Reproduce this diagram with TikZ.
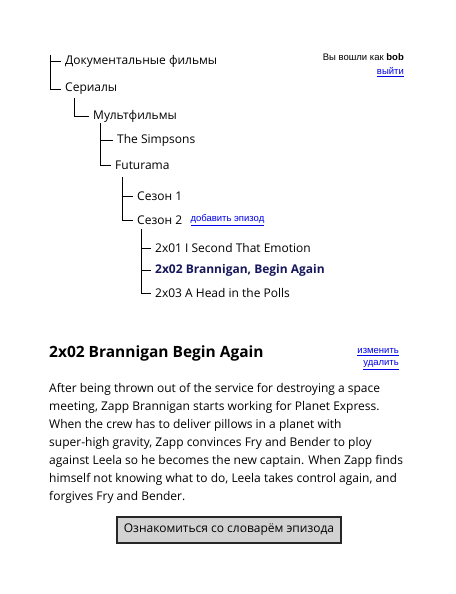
\documentclass[tikz,border=0pt]{standalone}
\usepackage{fontspec}
\setmainfont{Open Sans}
\newfontfamily\uifont{Liberation Sans}
\usetikzlibrary{positioning}
\definecolor{linkblue}{RGB}{0,0,230}
\definecolor{navy}{RGB}{22,22,92}
\tikzset{
    % Tree entry
    item/.style={anchor=west,inner xsep=4pt,inner ysep=1pt,font=\fontsize{12}{14}\selectfont},
    % Tree branch line
    branch/.style={draw=black,line width=0.8pt},
    % Small link text
    link/.style={text=linkblue,inner sep=1pt,font=\uifont\fontsize{9.5}{11}\selectfont},
    % Grey button
    button/.style={draw=black!85,line width=1.1pt,fill=gray!35,minimum width=224pt,minimum height=26pt,font=\fontsize{12}{14}\selectfont}
}
\begin{document}
\begin{tikzpicture}[x=1pt,y=-1pt]
    \useasboundingbox (0,0) rectangle (455,594);

    % Category tree
    \node[item] (docs) at (61,61) {Документальные фильмы};
    \node[item] (serials) at (61,89) {Сериалы};
    \node[item] (cartoons) at (89,116) {Мультфильмы};
    \node[item] (simpsons) at (113,140) {The Simpsons};
    \node[item] (futurama) at (111,165) {Futurama};
    \node[item] (season1) at (133,196) {Сезон 1};
    \node[item] (season2) at (133,220) {Сезон 2};
    \node[link, right=3pt of season2] (addepisode) {\underline{добавить эпизод}};
    \node[item] (ep1) at (151,248) {2x01 I Second That Emotion};
    \node[item, text=navy, font=\bfseries\fontsize{12}{14}\selectfont] (ep2) at (151,270) {2x02 Brannigan, Begin Again};
    \node[item] (ep3) at (151,293) {2x03 A Head in the Polls};

    % Branches
    \coordinate (root) at (50,55);
    \draw[branch] (root) |- (docs.west);
    \draw[branch] (root) |- (serials.west);
    \coordinate (serialsroot) at (74,98);
    \draw[branch] (serialsroot) |- (cartoons.west);
    \coordinate (cartoonsroot) at (100,123);
    \draw[branch] (cartoonsroot) |- (simpsons.west);
    \draw[branch] (cartoonsroot) |- (futurama.west);
    \coordinate (futuramaroot) at (122,177);
    \draw[branch] (futuramaroot) |- (season1.west);
    \draw[branch] (futuramaroot) |- (season2.west);
    \coordinate (seasonroot) at (141,229);
    \foreach \ep in {ep1,ep2,ep3}
        \draw[branch] (seasonroot) |- (\ep.west);

    % Login box
    \node[anchor=east, inner sep=1pt, font=\uifont\fontsize{9.5}{11}\selectfont] (login) at (405,57) {Вы вошли как \textbf{bob}};
    \node[link, anchor=east] (logout) at (405,72) {\underline{выйти}};

    % Episode view
    \node[anchor=west, inner sep=1pt, font=\bfseries\fontsize{15.5}{18}\selectfont] (title) at (48,353) {2x02 Brannigan Begin Again};
    \node[link, anchor=east] (edit) at (400,352) {\underline{изменить}};
    \node[link, anchor=east] (delete) at (400,365) {\underline{удалить}};
    \node[anchor=north west, align=left, inner sep=0pt, font=\fontsize{12}{18}\selectfont] (summary) at (49,383) {After being thrown out of the service for destroying a space\\
        meeting, Zapp Brannigan starts working for Planet Express.\\
        When the crew has to deliver pillows in a planet with\\
        super-high gravity, Zapp convinces Fry and Bender to ploy\\
        against Leela so he becomes the new captain. When Zapp finds\\
        himself not knowing what to do, Leela takes control again, and\\
        forgives Fry and Bender.};
    \node[button] (glossary) at (229,530) {Ознакомиться со словарём эпизода};
\end{tikzpicture}
\end{document}
